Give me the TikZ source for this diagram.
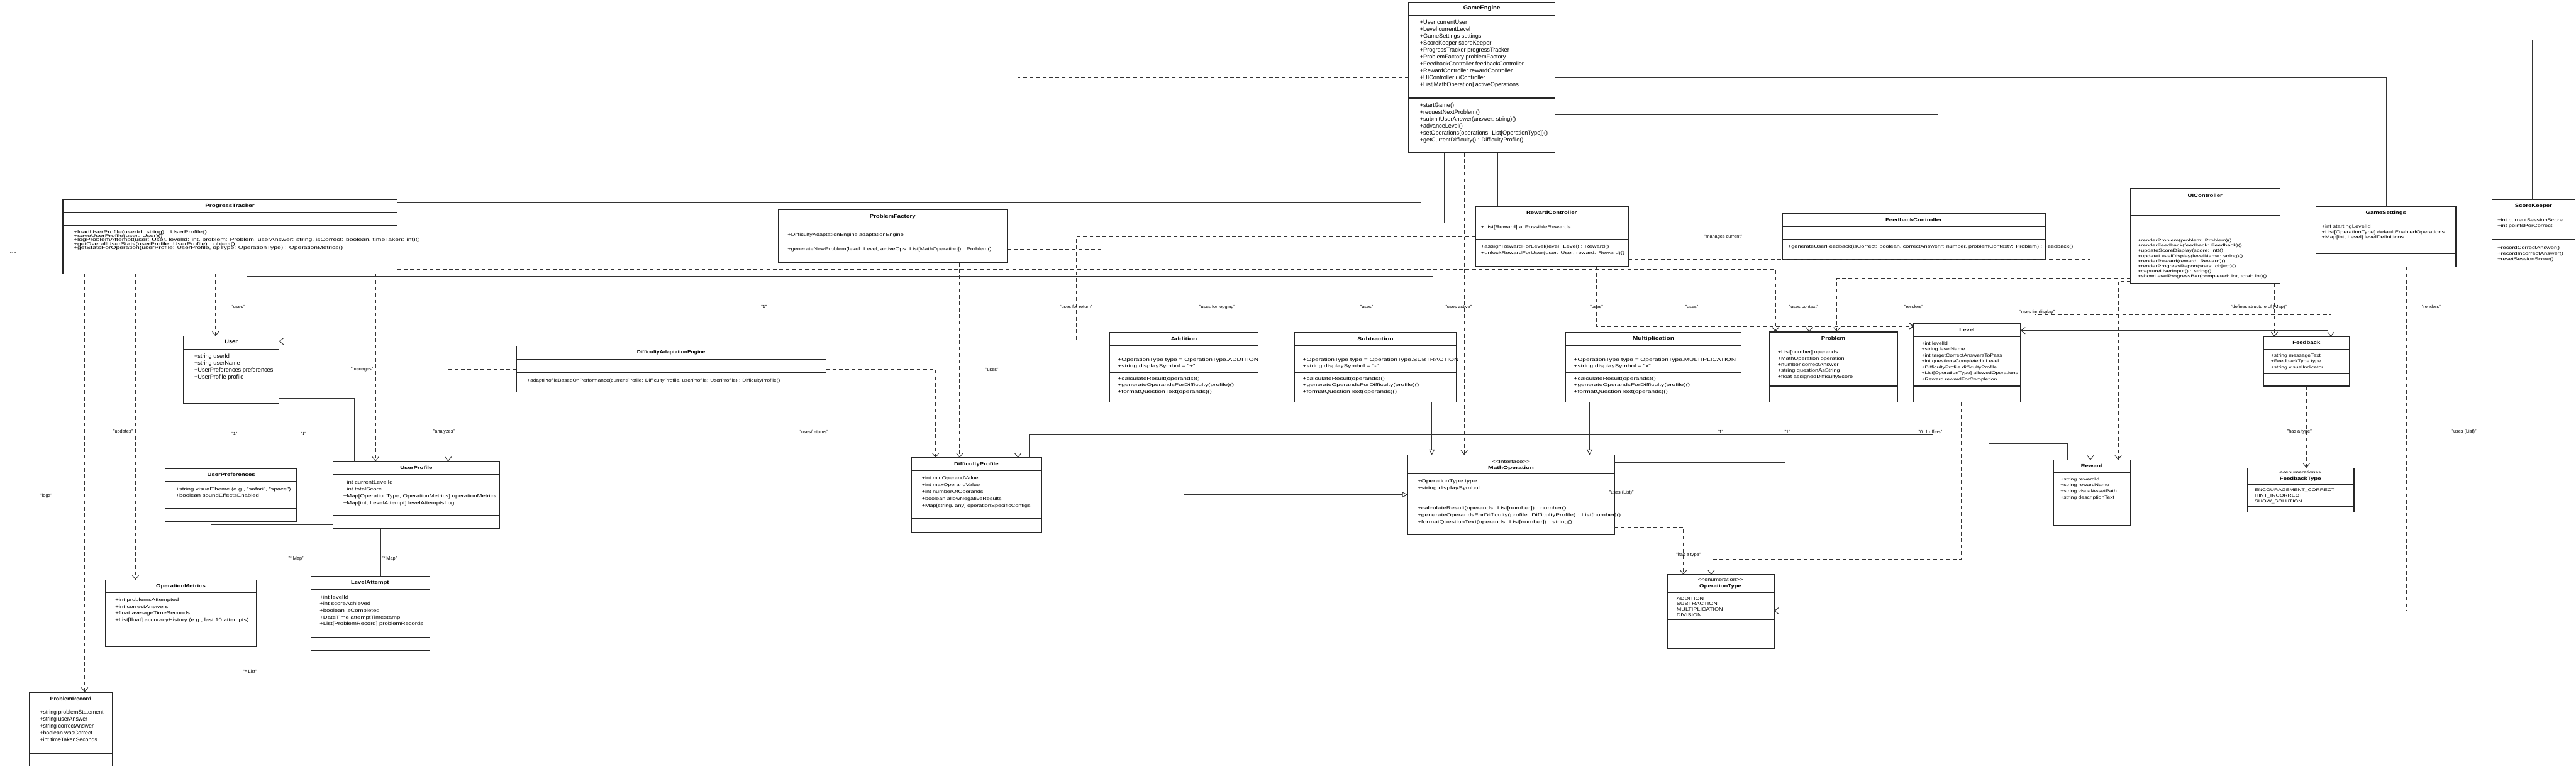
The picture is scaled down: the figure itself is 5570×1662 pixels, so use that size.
\documentclass[tikz,border=0pt]{standalone}
\usepackage{fontspec}
\setmainfont{Liberation Sans}
\usepackage{graphicx}
\usetikzlibrary{arrows.meta}
\newcommand\Lx[1]{\hbox{#1}}
\newcommand\ubox[7]{%
  \node[cls, minimum width={(#4)-(#2)}, minimum height={(#7)-(#3)}] (#1) at (#2,#3) {};
  \draw[sepl] (#2,#5) -- (#4,#5);
  \draw[sepl] (#2,#6) -- (#4,#6);}
\newcommand\utitle[6]{\node[inner sep=0pt, font=\bfseries\fontsize{#4}{#4}\selectfont] (#1) at (#2,#3) {\scalebox{#5}[1]{#6}};}
\newcommand\ulines[7]{\node[anchor=north west, inner sep=0pt] (#1) at ({#2},{(#3)-0.37*(#4)}) {\fontsize{#4}{#5}\selectfont\lineskiplimit=-\maxdimen\scalebox{#6}[1]{\vbox{#7}}};}
\tikzset{
  cls/.style={draw=black!85, line width=1.8pt, fill=white, inner sep=0pt, outer sep=0pt, anchor=north west},
  sepl/.style={draw=black!85, line width=1.8pt},
  asc/.style={draw=black!80, line width=1.3pt},
  dep/.style={draw=black!80, line width=1.3pt, dash pattern=on 8pt off 6pt, -{Straight Barb[length=9pt,width=14pt]}},
  real/.style={draw=black!80, line width=1.3pt, -{Triangle[open,length=12pt,width=12pt]}},
  lbl/.style={inner sep=1pt, font=\fontsize{10}{10}\selectfont},
}
\begin{document}
\begin{tikzpicture}[x=1pt,y=-1pt]
\useasboundingbox (0,0) rectangle (5570,1662);
\fill[white] (0,0) rectangle (5570,1662);

% ---------------- classes ----------------
\ubox{ge}{3046}{5}{3362}{33}{212}{330}
\utitle{geT}{3204}{18}{13}{1}{GameEngine}
\ulines{geA}{3070}{48}{12.5}{15}{1}{\Lx{+User currentUser}\Lx{+Level currentLevel}\Lx{+GameSettings settings}\Lx{+ScoreKeeper scoreKeeper}\Lx{+ProgressTracker progressTracker}\Lx{+ProblemFactory problemFactory}\Lx{+FeedbackController feedbackController}\Lx{+RewardController rewardController}\Lx{+UIController uiController}\Lx{+List[MathOperation] activeOperations}}
\ulines{geM}{3070}{227}{12.5}{15}{1}{\Lx{+startGame()}\Lx{+requestNextProblem()}\Lx{+submitUserAnswer(answer: string)()}\Lx{+advanceLevel()}\Lx{+setOperations(operations: List[OperationType])()}\Lx{+getCurrentDifficulty() : DifficultyProfile()}}

\ubox{pt}{136}{432}{859}{459}{488}{592}
\utitle{ptT}{497}{446}{10}{1.35}{ProgressTracker}
\ulines{ptM}{159}{502}{9.5}{8.3}{1.48}{\Lx{+loadUserProfile(userId: string) : UserProfile()}\Lx{+saveUserProfile(user: User)()}\Lx{+logProblemAttempt(user: User, levelId: int, problem: Problem, userAnswer: string, isCorrect: boolean, timeTaken: int)()}\Lx{+getOverallUserStats(userProfile: UserProfile) : object()}\Lx{+getStatsForOperation(userProfile: UserProfile, opType: OperationType) : OperationMetrics()}}

\ubox{pf}{1683}{453}{2178}{482}{526}{568}
\utitle{pfT}{1930}{468}{10}{1.3}{ProblemFactory}
\ulines{pfA}{1703}{507}{9.5}{14}{1.3}{\Lx{+DifficultyAdaptationEngine adaptationEngine}}
\ulines{pfM}{1703}{539}{9.5}{14}{1.3}{\Lx{+generateNewProblem(level: Level, activeOps: List[MathOperation]) : Problem()}}

\ubox{dae}{1117}{749}{1786}{778}{806}{848}
\utitle{daeT}{1451}{763}{10}{1.15}{DifficultyAdaptationEngine}
\ulines{daeM}{1140}{822}{10}{14}{1.12}{\Lx{+adaptProfileBasedOnPerformance(currentProfile: DifficultyProfile, userProfile: UserProfile) : DifficultyProfile()}}

\ubox{user}{396}{727}{603}{755}{844}{872}
\utitle{userT}{500}{739}{12.5}{1}{User}
\ulines{userA}{420}{770}{12.5}{15}{1}{\Lx{+string userId}\Lx{+string userName}\Lx{+UserPreferences preferences}\Lx{+UserProfile profile}}

\ubox{upref}{357}{1013}{642}{1041}{1099}{1128}
\utitle{uprefT}{500}{1027}{10}{1.3}{UserPreferences}
\ulines{uprefA}{380}{1057}{10}{14}{1.3}{\Lx{+string visualTheme (e.g., "safari", "space")}\Lx{+boolean soundEffectsEnabled}}

\ubox{uprof}{720}{998}{1080}{1026}{1114}{1143}
\utitle{uprofT}{900}{1012}{10}{1.3}{UserProfile}
\ulines{uprofA}{742}{1042}{10}{15}{1.3}{\Lx{+int currentLevelId}\Lx{+int totalScore}\Lx{+Map[OperationType, OperationMetrics] operationMetrics}\Lx{+Map[int, LevelAttempt] levelAttemptsLog}}

\ubox{om}{228}{1254}{555}{1282}{1371}{1399}
\utitle{omT}{391}{1268}{10}{1.3}{OperationMetrics}
\ulines{omA}{249}{1297}{10}{14.5}{1.3}{\Lx{+int problemsAttempted}\Lx{+int correctAnswers}\Lx{+float averageTimeSeconds}\Lx{+List[float] accuracyHistory (e.g., last 10 attempts)}}

\ubox{la}{672}{1246}{929}{1274}{1379}{1406}
\utitle{laT}{800}{1260}{10}{1.3}{LevelAttempt}
\ulines{laA}{691}{1291}{10}{14.5}{1.3}{\Lx{+int levelId}\Lx{+int scoreAchieved}\Lx{+boolean isCompleted}\Lx{+DateTime attemptTimestamp}\Lx{+List[ProblemRecord] problemRecords}}

\ubox{pr}{63}{1497}{243}{1525}{1629}{1657}
\utitle{prT}{153}{1511}{12}{1}{ProblemRecord}
\ulines{prA}{86}{1540}{12}{15}{1}{\Lx{+string problemStatement}\Lx{+string userAnswer}\Lx{+string correctAnswer}\Lx{+boolean wasCorrect}\Lx{+int timeTakenSeconds}}

\ubox{add}{2399}{719}{2720}{748}{806}{870}
\utitle{addT}{2560}{733}{10}{1.4}{Addition}
\ulines{addA}{2417}{777}{9.5}{14}{1.45}{\Lx{+OperationType type = OperationType.ADDITION}\Lx{+string displaySymbol = "+"}}
\ulines{addM}{2417}{818}{9.5}{14.5}{1.45}{\Lx{+calculateResult(operands)()}\Lx{+generateOperandsForDifficulty(profile)()}\Lx{+formatQuestionText(operands)()}}

\ubox{sub}{2799}{719}{3149}{748}{806}{870}
\utitle{subT}{2974}{733}{10}{1.4}{Subtraction}
\ulines{subA}{2817}{777}{9.5}{14}{1.45}{\Lx{+OperationType type = OperationType.SUBTRACTION}\Lx{+string displaySymbol = "-"}}
\ulines{subM}{2817}{818}{9.5}{14.5}{1.45}{\Lx{+calculateResult(operands)()}\Lx{+generateOperandsForDifficulty(profile)()}\Lx{+formatQuestionText(operands)()}}

\ubox{mul}{3385}{719}{3765}{748}{806}{870}
\utitle{mulT}{3575}{733}{10}{1.4}{Multiplication}
\ulines{mulA}{3403}{777}{9.5}{14}{1.45}{\Lx{+OperationType type = OperationType.MULTIPLICATION}\Lx{+string displaySymbol = "x"}}
\ulines{mulM}{3403}{818}{9.5}{14.5}{1.45}{\Lx{+calculateResult(operands)()}\Lx{+generateOperandsForDifficulty(profile)()}\Lx{+formatQuestionText(operands)()}}

\ubox{dp}{1971}{990}{2252}{1018}{1122}{1151}
\utitle{dpT}{2111}{1004}{10}{1.3}{DifficultyProfile}
\ulines{dpA}{1993}{1033}{9.5}{15}{1.3}{\Lx{+int minOperandValue}\Lx{+int maxOperandValue}\Lx{+int numberOfOperands}\Lx{+boolean allowNegativeResults}\Lx{+Map[string, any] operationSpecificConfigs}}

\ubox{mo}{3044}{984}{3491}{1025}{1083}{1156}
\node[inner sep=0pt, font=\fontsize{9.5}{9.5}\selectfont] (moS) at (3267,998) {\scalebox{1.4}[1]{<{}<Interface>{}>}};
\utitle{moT}{3267}{1012}{10}{1.4}{MathOperation}
\ulines{moA}{3065}{1040}{9.5}{15}{1.45}{\Lx{+OperationType type}\Lx{+string displaySymbol}}
\ulines{moM}{3065}{1098}{9.5}{15}{1.45}{\Lx{+calculateResult(operands: List[number]) : number()}\Lx{+generateOperandsForDifficulty(profile: DifficultyProfile) : List[number]()}\Lx{+formatQuestionText(operands: List[number]) : string()}}

\ubox{ot}{3605}{1243}{3836}{1282}{1340}{1403}
\node[inner sep=0pt, font=\fontsize{9.5}{9.5}\selectfont] (otS) at (3720,1254) {\scalebox{1.3}[1]{<{}<enumeration>{}>}};
\utitle{otT}{3720}{1268}{10}{1.3}{OperationType}
\ulines{otA}{3625}{1294}{9.5}{12}{1.3}{\Lx{ADDITION}\Lx{SUBTRACTION}\Lx{MULTIPLICATION}\Lx{DIVISION}}

\ubox{rc}{3190}{446}{3521}{474}{518}{576}
\utitle{rcT}{3355}{460}{10}{1.3}{RewardController}
\ulines{rcA}{3202}{491}{9.5}{14}{1.35}{\Lx{+List[Reward] allPossibleRewards}}
\ulines{rcM}{3202}{533}{9.5}{14}{1.35}{\Lx{+assignRewardForLevel(level: Level) : Reward()}\Lx{+unlockRewardForUser(user: User, reward: Reward)()}}

\ubox{fc}{3854}{462}{4422}{490}{518}{561}
\utitle{fcT}{4138}{476}{10}{1.3}{FeedbackController}
\ulines{fcM}{3866}{533}{9.5}{14}{1.3}{\Lx{+generateUserFeedback(isCorrect: boolean, correctAnswer?: number, problemContext?: Problem) : Feedback()}}

\ubox{ui}{4607}{408}{4930}{437}{466}{613}
\utitle{uiT}{4768}{423}{10}{1.3}{UIController}
\ulines{uiM}{4622}{520}{8.5}{11}{1.45}{\Lx{+renderProblem(problem: Problem)()}\Lx{+renderFeedback(feedback: Feedback)()}\Lx{+updateScoreDisplay(score: int)()}\Lx{+updateLevelDisplay(levelName: string)()}\Lx{+renderReward(reward: Reward)()}\Lx{+renderProgressReport(stats: object)()}\Lx{+captureUserInput() : string()}\Lx{+showLevelProgressBar(completed: int, total: int)()}}

\ubox{gs}{5008}{447}{5310}{474}{549}{577}
\utitle{gsT}{5159}{460}{10}{1.3}{GameSettings}
\ulines{gsA}{5020}{490}{9}{11.5}{1.4}{\Lx{+int startingLevelId}\Lx{+List[OperationType] defaultEnabledOperations}\Lx{+Map[int, Level] levelDefinitions}}

\ubox{sk}{5388}{432}{5568}{460}{518}{592}
\utitle{skT}{5478}{446}{10}{1.3}{ScoreKeeper}
\ulines{skA}{5400}{476}{9}{12}{1.4}{\Lx{+int currentSessionScore}\Lx{+int pointsPerCorrect}}
\ulines{skM}{5400}{536}{9}{12}{1.4}{\Lx{+recordCorrectAnswer()}\Lx{+recordIncorrectAnswer()}\Lx{+resetSessionScore()}}

\ubox{prob}{3826}{718}{4103}{746}{835}{870}
\utitle{probT}{3964}{732}{10}{1.3}{Problem}
\ulines{probA}{3844}{762}{9.5}{13}{1.3}{\Lx{+List[number] operands}\Lx{+MathOperation operation}\Lx{+number correctAnswer}\Lx{+string questionAsString}\Lx{+float assignedDifficultyScore}}

\ubox{lvl}{4138}{700}{4369}{728}{835}{870}
\utitle{lvlT}{4253}{714}{10}{1.3}{Level}
\ulines{lvlA}{4155}{742}{9}{13}{1.3}{\Lx{+int levelId}\Lx{+string levelName}\Lx{+int targetCorrectAnswersToPass}\Lx{+int questionsCompletedInLevel}\Lx{+DifficultyProfile difficultyProfile}\Lx{+List[OperationType] allowedOperations}\Lx{+Reward rewardForCompletion}}

\ubox{fb}{4895}{728}{5080}{755}{808}{835}
\utitle{fbT}{4987}{741}{10}{1.3}{Feedback}
\ulines{fbA}{4910}{768}{9}{13}{1.3}{\Lx{+string messageText}\Lx{+FeedbackType type}\Lx{+string visualIndicator}}

\ubox{rw}{4440}{995}{4607}{1022}{1090}{1137}
\utitle{rwT}{4523}{1008}{10}{1.3}{Reward}
\ulines{rwA}{4455}{1036}{9}{13}{1.3}{\Lx{+string rewardId}\Lx{+string rewardName}\Lx{+string visualAssetPath}\Lx{+string descriptionText}}

\ubox{ft}{4859}{1012}{5090}{1048}{1095}{1108}
\node[inner sep=0pt, font=\fontsize{9}{9}\selectfont] (ftS) at (4974,1022) {\scalebox{1.3}[1]{<{}<enumeration>{}>}};
\utitle{ftT}{4974}{1036}{10}{1.3}{FeedbackType}
\ulines{ftA}{4875}{1060}{9}{12}{1.3}{\Lx{ENCOURAGEMENT\_CORRECT}\Lx{HINT\_INCORRECT}\Lx{SHOW\_SOLUTION}}

% ---------------- associations ----------------
\draw[asc] (ge.south -| 3072,0) -- (3072,438) -- (pt.east |- 0,438);
\draw[asc] (ge.east |- 0,86) -- (5476,86) -- (sk.north -| 5476,0);
\draw[asc] (ge.east |- 0,168) -- (5160,168) -- (gs.north -| 5160,0);
\draw[asc] (ge.east |- 0,248) -- (4191,248) -- (fc.north -| 4191,0);
\draw[asc] (ge.south -| 3300,0) -- (3300,419) -- (ui.west |- 0,419);
\draw[asc] (ge.south -| 3239,0) -- (rc.north -| 3239,0);
\draw[asc] (ge.south -| 3098,0) -- (3098,597) -- (534,597) -- (user.north -| 534,0);
\draw[asc] (ge.south -| 3123,0) -- (3123,482) -- (pf.east |- 0,482);
\draw[asc] (ge.south -| 3172,0) -- (3172,712) -- (lvl.west |- 0,712);
\draw[asc] (ge.south -| 3161,0) -- (mo.north -| 3161,0);
\draw[asc] (user.south -| 500,0) -- (upref.north -| 500,0);
\draw[asc] (user.east |- 0,861) -- (766,861) -- (uprof.north -| 766,0);
\draw[asc] (uprof.west |- 0,1135) -- (456,1135) -- (om.north -| 456,0);
\draw[asc] (uprof.south -| 823,0) -- (la.north -| 823,0);
\draw[asc] (la.south -| 800,0) -- (800,1577) -- (pr.east |- 0,1577);
\draw[asc] (pf.south -| 1735,0) -- (dae.north -| 1735,0);
\draw[asc] (lvl.south -| 4300,0) -- (4300,960) -- (4470,960) -- (rw.north -| 4470,0);
\draw[asc] (lvl.south -| 4180,0) -- (4180,940) -- (2226,940) -- (dp.north -| 2226,0);
\draw[asc] (prob.south -| 3860,0) -- (3860,1000) -- (mo.east |- 0,1000);
\draw[asc, -{Straight Barb[length=9pt,width=14pt]}] (gs.south -| 5033,0) -- (5033,715) -- (lvl.east |- 0,715);

% ---------------- dependencies ----------------
\draw[dep] (pt.south -| 466,0) -- (user.north -| 466,0);
\draw[dep] (pt.south -| 293,0) -- (om.north -| 293,0);
\draw[dep] (pt.south -| 183,0) -- (pr.north -| 183,0);
\draw[dep] (pt.south -| 812,0) -- (uprof.north -| 812,0);
\draw[dep] (pt.east |- 0,583) -- (3839,583) -- (prob.north -| 3839,0);
\draw[dep] (dae.west |- 0,799) -- (969,799) -- (uprof.north -| 969,0);
\draw[dep] (dae.east |- 0,799) -- (2023,799) -- (dp.north -| 2023,0);
\draw[dep] (pf.south -| 2075,0) -- (dp.north -| 2075,0);
\draw[dep] (ge.west |- 0,168) -- (2201,168) -- (dp.north -| 2201,0);
\draw[dep] (ge.south -| 3166,0) -- (mo.north -| 3166,0);
\draw[dep] (pf.east |- 0,539) -- (2380,539) -- (2380,705) -- (lvl.west |- 0,705);
\draw[dep] (rc.west |- 0,512) -- (2327,512) -- (2327,738) -- (user.east |- 0,738);
\draw[dep] (rc.south -| 3452,0) -- (3452,706) -- (lvl.west |- 0,706);
\draw[dep] (rc.east |- 0,561) -- (4520,561) -- (rw.north -| 4520,0);
\draw[dep] (fc.south -| 3912,0) -- (prob.north -| 3912,0);
\draw[dep] (fc.south -| 4400,0) -- (4400,680) -- (5040,680) -- (fb.north -| 5040,0);
\draw[dep] (ui.west |- 0,602) -- (3972,602) -- (prob.north -| 3972,0);
\draw[dep] (ui.west |- 0,608) -- (4580,608) -- (rw.north -| 4580,0);
\draw[dep] (ui.south -| 4918,0) -- (fb.north -| 4918,0);
\draw[dep] (gs.south -| 5204,0) -- (5204,1321) -- (ot.east |- 0,1321);
\draw[dep] (fb.south -| 4987,0) -- (ft.north -| 4987,0);
\draw[dep] (mo.east |- 0,1140) -- (3640,1140) -- (ot.north -| 3640,0);
\draw[dep] (lvl.south -| 4240,0) -- (4240,1210) -- (3700,1210) -- (ot.north -| 3700,0);

% ---------------- realizations ----------------
\draw[real] (add.south -| 2560,0) -- (2560,1070) -- (mo.west |- 0,1070);
\draw[real] (sub.south -| 3096,0) -- (mo.north -| 3096,0);
\draw[real] (mul.south -| 3437,0) -- (mo.north -| 3437,0);

% ---------------- labels ----------------
\node[lbl] (l1) at (507,938) {"1"};
\node[lbl] (l2) at (656,938) {"1"};
\node[lbl] (l3) at (640,1208) {"* Map"};
\node[lbl] (l4) at (842,1208) {"* Map"};
\node[lbl] (l5) at (541,1452) {"* List"};
\node[lbl] (l6) at (515,664) {"uses"};
\node[lbl] (l7) at (266,934) {"updates"};
\node[lbl] (l8) at (100,1072) {"logs"};
\node[lbl] (l9) at (783,799) {"manages"};
\node[lbl] (l10) at (960,934) {"analyzes"};
\node[lbl] (l11) at (3726,512) {"manages current"};
\node[lbl] (l12) at (28,550) {"1"};
\node[lbl] (l13) at (1652,664) {"1"};
\node[lbl] (l14) at (2327,664) {"uses for return"};
\node[lbl] (l15) at (2632,664) {"uses for logging"};
\node[lbl] (l16) at (2955,664) {"uses"};
\node[lbl] (l17) at (3154,664) {"uses active"};
\node[lbl] (l18) at (3452,664) {"uses"};
\node[lbl] (l19) at (3658,664) {"uses"};
\node[lbl] (l20) at (3900,664) {"uses context"};
\node[lbl] (l21) at (4138,664) {"renders"};
\node[lbl] (l33) at (4405,675) {"uses for display"};
\node[lbl] (l22) at (4884,664) {"defines structure of (Map)"};
\node[lbl] (l23) at (5257,664) {"renders"};
\node[lbl] (l24) at (1760,934) {"uses/returns"};
\node[lbl] (l25) at (2145,800) {"uses"};
\node[lbl] (l26) at (3720,934) {"1"};
\node[lbl] (l27) at (3865,934) {"1"};
\node[lbl] (l28) at (4174,934) {"0..1 offers"};
\node[lbl] (l29) at (4972,934) {"has a type"};
\node[lbl] (l30) at (3651,1200) {"has a type"};
\node[lbl] (l31) at (3506,1066) {"uses (List)"};
\node[lbl] (l32) at (5328,934) {"uses (List)"};
\end{tikzpicture}
\end{document}
